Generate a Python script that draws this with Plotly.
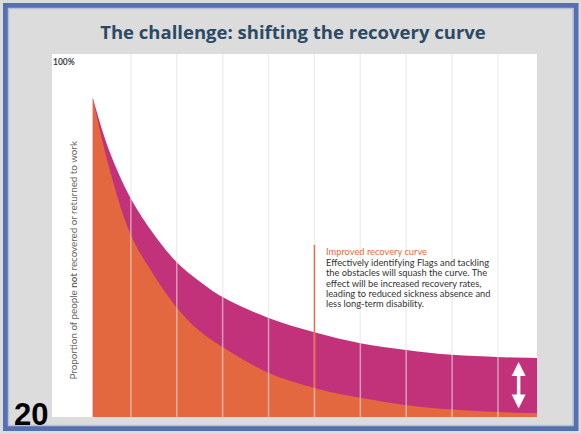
import plotly.graph_objects as go

# ---- data ----
# x: time units (gridlines at 1..9), y: % of people not recovered / returned to work
x_current = [0.17, 0.5, 1.0, 1.5, 2.0, 2.5, 3.0, 4.0, 5.0, 6.0, 7.0, 8.0, 9.0, 9.85]
y_current = [89.9, 76.0, 61.5, 51.5, 43.6, 38.2, 33.8, 27.9, 23.9, 20.8, 18.9, 17.5, 16.9, 16.6]

x_improved = [0.17, 0.5, 1.0, 1.5, 2.0, 2.5, 3.0, 4.0, 5.0, 6.0, 7.0, 8.0, 9.0, 9.85]
y_improved = [89.9, 71.5, 51.3, 40.0, 30.8, 24.2, 19.7, 12.4, 8.2, 5.4, 3.3, 2.1, 1.4, 1.1]

grid_x = [1, 2, 3, 4, 5, 6, 7, 8, 9]
marker_x = 5
marker_top = 48.5

title_text = "The challenge: shifting the recovery curve"
ylabel_text = "Proportion of people <b>not</b> recovered or returned to work"
note_title = "Improved recovery curve"
note_lines = [
    "Effectively identifying Flags and tackling",
    "the obstacles will squash the curve. The",
    "effect will be increased recovery rates,",
    "leading to reduced sickness absence and",
    "less long-term disability.",
]
page_number = "20"

MAGENTA = "#c2327a"
ORANGE = "#e4683f"

W, H = 581, 434
ML, MR, MT, MB = 52, 44, 54, 17
PW, PH = W - ML - MR, H - MT - MB
X_RANGE = [-0.719, 9.85]
Y_RANGE = [0, 102.25]


def pxx(px):
    return (px - ML) / PW


def pxy(py):
    return (H - MB - py) / PH


fig = go.Figure()
fig.add_trace(go.Scatter(
    x=x_current, y=y_current, mode="lines", fill="tozeroy",
    line=dict(width=0, color=MAGENTA, shape="spline", smoothing=1.0),
    fillcolor=MAGENTA, hoverinfo="skip", showlegend=False))
fig.add_trace(go.Scatter(
    x=x_improved, y=y_improved, mode="lines", fill="tozeroy",
    line=dict(width=0, color=ORANGE, shape="spline", smoothing=1.0),
    fillcolor=ORANGE, hoverinfo="skip", showlegend=False))

shapes = []
# vertical gridlines drawn above the fills
for gx in grid_x:
    shapes.append(dict(type="line", xref="x", yref="y", x0=gx, x1=gx,
                       y0=Y_RANGE[0], y1=Y_RANGE[1], layer="above",
                       line=dict(color="rgba(226,226,226,0.6)", width=1.5)))
# orange marker line for the annotation
low_at_marker = y_improved[x_improved.index(marker_x)]
shapes.append(dict(type="line", xref="x", yref="y", x0=marker_x, x1=marker_x,
                   y0=low_at_marker, y1=marker_top, layer="above",
                   line=dict(color="#e8714c", width=1.5)))
# slide frame
shapes.append(dict(type="rect", xref="paper", yref="paper",
                   x0=pxx(5.5), x1=pxx(576), y0=pxy(428.5), y1=pxy(5.5),
                   line=dict(color="#5570b0", width=5), layer="below"))
shapes.append(dict(type="rect", xref="paper", yref="paper",
                   x0=pxx(8.5), x1=pxx(573), y0=pxy(425.5), y1=pxy(8.5),
                   line=dict(color="#b4c0dc", width=1.5), layer="below"))

annotations = []
annotations.append(dict(xref="paper", yref="paper", x=pxx(51), y=pxy(62),
                        xanchor="left", yanchor="middle", showarrow=False,
                        text="<b>100%</b>", font=dict(family="Lato", size=8.5, color="#444444")))
annotations.append(dict(xref="paper", yref="paper", x=pxx(72.5), y=pxy(261),
                        xanchor="center", yanchor="middle", showarrow=False,
                        textangle=-90, text=ylabel_text,
                        font=dict(family="Lato", size=9.8, color="#666666")))
# annotation block: one line per annotation for tight line spacing
line_px = [251, 262, 272.5, 283, 293, 303.5]
note_texts = [note_title] + note_lines
for i, (t, py) in enumerate(zip(note_texts, line_px)):
    annotations.append(dict(xref="paper", yref="paper", x=pxx(324), y=pxy(py),
                            xanchor="left", yanchor="middle", showarrow=False,
                            text=t,
                            font=dict(family="Lato", size=9.3,
                                      color=ORANGE if i == 0 else "#333333")))
annotations.append(dict(xref="paper", yref="paper", x=pxx(31), y=pxy(414),
                        xanchor="center", yanchor="middle", showarrow=False,
                        text=f"<b>{page_number}</b>",
                        font=dict(family="Liberation Sans", size=31, color="#000000")))
# double-headed arrow showing the gap at the end
ax_x = x_current[-1] - 0.4
annotations.append(dict(xref="x", yref="y", axref="x", ayref="y",
                        x=ax_x, y=y_current[-1] - 1.1, ax=ax_x, ay=y_improved[-1] + 0.9,
                        text="", showarrow=True, arrowside="end+start",
                        arrowhead=2, startarrowhead=2, arrowsize=0.8, startarrowsize=0.8,
                        arrowwidth=3.5, arrowcolor="#ffffff", standoff=0, startstandoff=0))

fig.update_layout(
    width=W, height=H,
    margin=dict(l=ML, r=MR, t=MT, b=MB),
    paper_bgcolor="#dcdcdc", plot_bgcolor="#ffffff",
    title=dict(text=f"<b>{title_text}</b>", xref="paper", x=pxx(293), xanchor="center",
               yref="container", y=1 - 33 / H, yanchor="middle",
               font=dict(family="Open Sans", size=18.5, color="#2b4a66")),
    xaxis=dict(range=X_RANGE, showgrid=False, zeroline=False, showticklabels=False,
               ticks="", fixedrange=True),
    yaxis=dict(range=Y_RANGE, showgrid=False, zeroline=False, showticklabels=False,
               ticks="", fixedrange=True),
    shapes=shapes, annotations=annotations, showlegend=False,
)

fig.write_html("out.html")
